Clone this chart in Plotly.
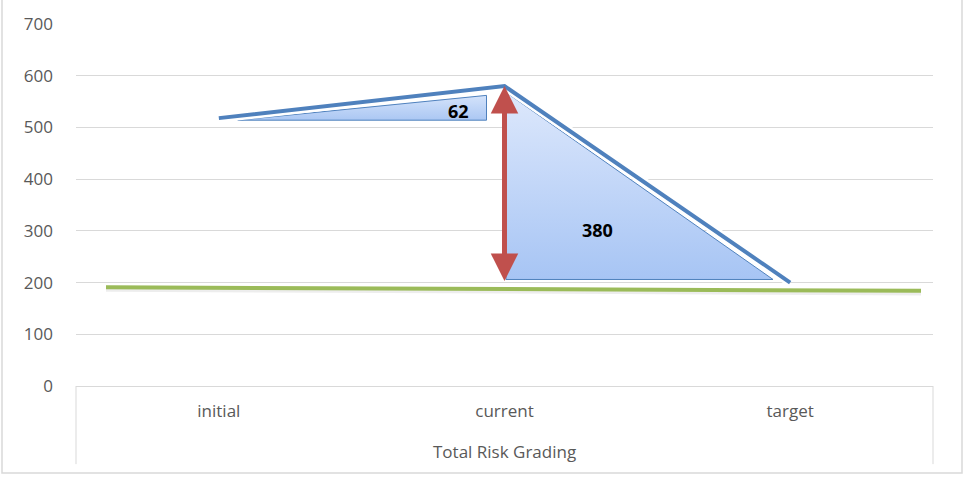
import plotly.graph_objects as go

# ---- data ----
categories = ["initial", "current", "target"]
risk_values = [518, 580, 200]
threshold_x = [-0.395, 2.458]
threshold_values = [191, 184]
axis_title = "Total Risk Grading"
y_ticks = [0, 100, 200, 300, 400, 500, 600, 700]

W, H = 967, 478
ML, MR, MT, MB = 76, 34, 20, 92
PW, PH = W - ML - MR, H - MT - MB

BLUE = "#4F81BD"
RED = "#C0504D"
GREEN = "#9BBB59"
GRID = "#d9d9d9"
TXT = "#595959"
FONT = "Open Sans"

xi = [0, 1, 2]
d1 = risk_values[1] - risk_values[0]
d2 = risk_values[1] - risk_values[2]

fig = go.Figure()

# triangle 1 (initial -> current increase)
t1x = [0.066, 0.937, 0.937, 0.066]
t1y = [risk_values[0] - 4, risk_values[0] - 4, risk_values[1] - 18, risk_values[0] - 4]
fig.add_trace(go.Scatter(
    x=t1x, y=t1y, mode="lines", fill="toself",
    line=dict(color=BLUE, width=1),
    fillgradient=dict(type="vertical", start=t1y[0], stop=t1y[2],
                      colorscale=[[0, "#a9c6f3"], [1, "#d3e2fa"]]),
    hoverinfo="skip", showlegend=False))

# triangle 2 (current -> target decrease)
t2x = [1.005, 1.005, 1.94, 1.005]
t2y = [risk_values[1] - 12, risk_values[2] + 6, risk_values[2] + 6, risk_values[1] - 12]
fig.add_trace(go.Scatter(
    x=t2x, y=t2y, mode="lines", fill="toself",
    line=dict(color=BLUE, width=1),
    fillgradient=dict(type="vertical", start=t2y[1], stop=t2y[0],
                      colorscale=[[0, "#a6c4f4"], [1, "#dde8fc"]]),
    hoverinfo="skip", showlegend=False))

# soft shadow under green line
fig.add_trace(go.Scatter(
    x=threshold_x, y=[v - 3 for v in threshold_values], mode="lines",
    line=dict(color="rgba(0,0,0,0.07)", width=6),
    hoverinfo="skip", showlegend=False))

# green threshold line
fig.add_trace(go.Scatter(
    x=threshold_x, y=threshold_values, mode="lines",
    line=dict(color=GREEN, width=4),
    hoverinfo="skip", showlegend=False))

# white halo + blue risk line
fig.add_trace(go.Scatter(
    x=xi, y=risk_values, mode="lines",
    line=dict(color="white", width=9),
    hoverinfo="skip", showlegend=False))
fig.add_trace(go.Scatter(
    x=xi, y=risk_values, mode="lines",
    line=dict(color=BLUE, width=4),
    hoverinfo="skip", showlegend=False))

# red double-headed arrow
fig.add_annotation(
    x=1, y=risk_values[1], ax=1, ay=risk_values[2],
    xref="x", yref="y", axref="x", ayref="y",
    text="", showarrow=True, arrowcolor=RED,
    arrowwidth=5, arrowhead=2, arrowsize=1.1,
    arrowside="end+start", startarrowhead=2, startarrowsize=1.1)

# difference labels
fig.add_annotation(x=0.84, y=532, xref="x", yref="y", text=f"<b>{d1}</b>",
                   showarrow=False, font=dict(family=FONT, size=18, color="black"))
fig.add_annotation(x=1.325, y=302, xref="x", yref="y", text=f"<b>{d2}</b>",
                   showarrow=False, font=dict(family=FONT, size=18, color="black"))

# x axis title
fig.add_annotation(x=0.5, y=0, xref="paper", yref="paper", yanchor="middle",
                   yshift=-(451 - 386), text=axis_title, showarrow=False,
                   font=dict(family=FONT, size=17, color=TXT))

def px(xp):
    return (xp - ML) / PW

def py(yp):
    return (H - MB - yp) / PH

shapes = [
    dict(type="line", xref="paper", yref="paper", x0=0, x1=0, y0=0, y1=py(465),
         line=dict(color=GRID, width=1)),
    dict(type="line", xref="paper", yref="paper", x0=1, x1=1, y0=0, y1=py(465),
         line=dict(color=GRID, width=1)),
    dict(type="rect", xref="paper", yref="paper", x0=px(2), x1=px(962),
         y0=py(474), y1=py(-5), line=dict(color=GRID, width=1.5),
         fillcolor="rgba(0,0,0,0)", layer="below"),
]

fig.update_layout(
    width=W, height=H,
    margin=dict(l=ML, r=MR, t=MT, b=MB),
    paper_bgcolor="white", plot_bgcolor="white",
    showlegend=False,
    shapes=shapes,
    font=dict(family=FONT, color=TXT),
    xaxis=dict(range=[-0.5, 2.5], tickvals=xi, ticktext=categories,
               showgrid=False, zeroline=False, showline=True,
               linecolor=GRID, linewidth=1, ticks="",
               ticklabelstandoff=10,
               tickfont=dict(family=FONT, size=17, color=TXT)),
    yaxis=dict(range=[0, 700], tickvals=y_ticks, showgrid=True,
               gridcolor=GRID, gridwidth=1, zeroline=False,
               showline=False, ticks="", ticklabelstandoff=22,
               tickfont=dict(family=FONT, size=17, color=TXT)),
)

fig.write_html("out.html")
